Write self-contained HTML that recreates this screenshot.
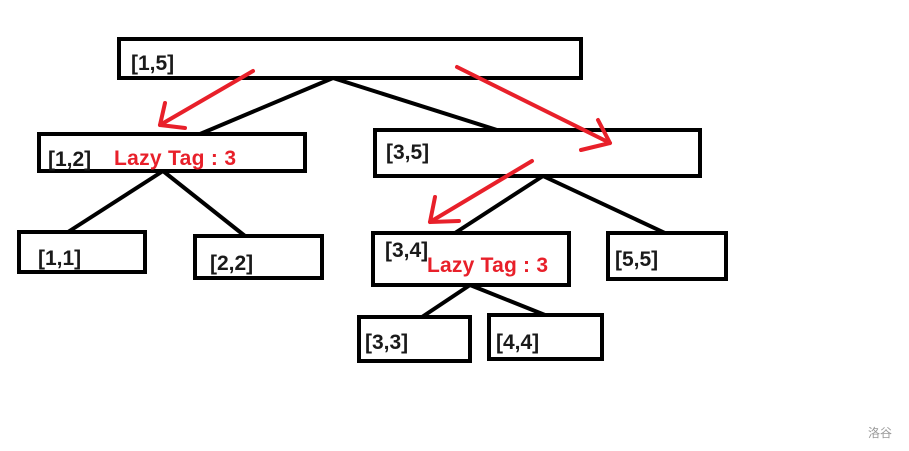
<!DOCTYPE html>
<html><head><meta charset="utf-8"><style>
html,body{margin:0;padding:0;background:#fff;}
svg{display:block;}
text{font-family:"Liberation Sans","DejaVu Sans",sans-serif;font-weight:bold;}
</style></head><body>
<svg width="909" height="451" viewBox="0 0 909 451" xmlns="http://www.w3.org/2000/svg">
<rect width="909" height="451" fill="#fff"/>
<g fill="none" stroke="#000" stroke-width="4">
<rect x="119" y="39" width="462" height="39"/>
<rect x="39" y="134" width="266" height="37"/>
<rect x="375" y="130" width="325" height="46"/>
<rect x="19" y="232" width="126" height="40"/>
<rect x="195" y="236" width="127" height="42"/>
<rect x="373" y="233" width="196" height="52"/>
<rect x="608" y="233" width="118" height="46"/>
<rect x="359" y="317" width="111" height="44"/>
<rect x="489" y="315" width="113" height="44"/>
<line x1="333" y1="78" x2="200" y2="134"/>
<line x1="333" y1="78" x2="497" y2="130"/>
<line x1="163" y1="171" x2="68" y2="232"/>
<line x1="163" y1="171" x2="245" y2="236"/>
<line x1="543" y1="176" x2="455" y2="233"/>
<line x1="543" y1="176" x2="665" y2="233"/>
<line x1="470" y1="285" x2="422" y2="317"/>
<line x1="470" y1="285" x2="545" y2="315"/>
</g>
<g fill="none" stroke="#e8202a" stroke-width="4" stroke-linecap="round" stroke-linejoin="round">
<line x1="253" y1="71" x2="160" y2="125"/>
<polyline points="165,103 160,125 185,128"/>
<line x1="457" y1="67" x2="610" y2="143"/>
<polyline points="598,120 610,143 581,150"/>
<line x1="532" y1="161" x2="430" y2="222"/>
<polyline points="435,197 430,222 459,221"/>
</g>
<g fill="#1a1a1a" font-size="21">
<text x="131" y="70">[1,5]</text>
<text x="48" y="166">[1,2]</text>
<text x="386" y="159">[3,5]</text>
<text x="38" y="265">[1,1]</text>
<text x="210" y="270">[2,2]</text>
<text x="385" y="257">[3,4]</text>
<text x="615" y="266">[5,5]</text>
<text x="365" y="349">[3,3]</text>
<text x="496" y="349">[4,4]</text>
</g>
<g fill="#e8202a" font-size="21">
<text x="114" y="165" textLength="122">Lazy Tag : 3</text>
<text x="427" y="272" textLength="121">Lazy Tag : 3</text>
</g>
<text x="868" y="437" font-size="12" fill="#999" style="font-family:'Noto Sans CJK SC',sans-serif;font-weight:normal">洛谷</text>
</svg>
</body></html>
